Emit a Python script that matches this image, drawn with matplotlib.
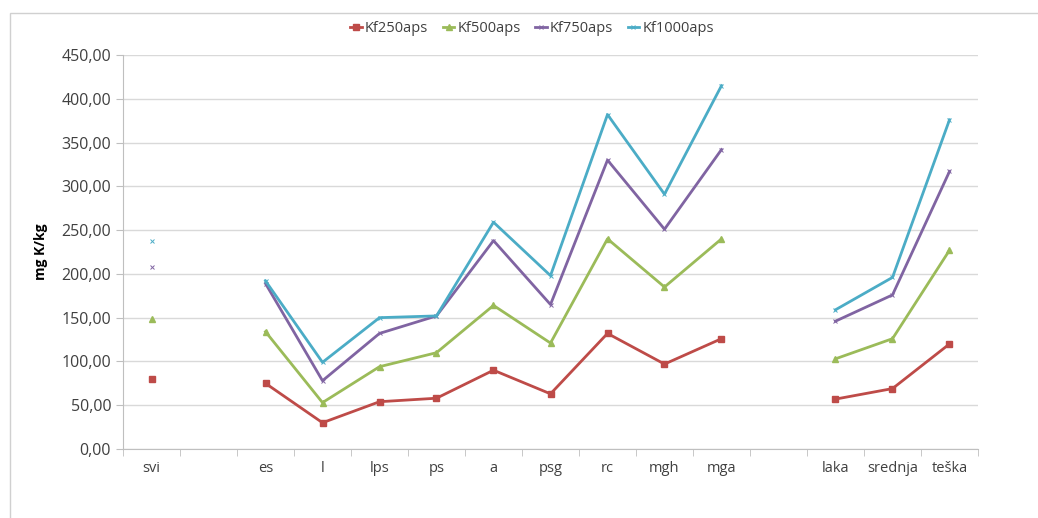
import matplotlib
matplotlib.use("Agg")
from matplotlib import pyplot as plt
from matplotlib.patches import Rectangle
from matplotlib.ticker import FuncFormatter, FixedLocator
import numpy as np

plt.rcParams['font.family'] = ['Open Sans', 'DejaVu Sans']

# categories (blank slots are gaps in the Excel chart)
categories = ['svi', '', 'es', 'l', 'lps', 'ps', 'a', 'psg', 'rc', 'mgh', 'mga', '', 'laka', 'srednja', 'teška']
nan = np.nan
kf250 = [80, nan, 75, 30, 54, 58, 90, 63, 132, 97, 126, nan, 57, 69, 120]
kf500 = [148, nan, 134, 53, 94, 110, 164, 121, 240, 185, 240, nan, 103, 126, 227]
kf750 = [208, nan, 189, 78, 132, 152, 238, 165, 330, 251, 342, nan, 146, 176, 317]
kf1000 = [237, nan, 192, 99, 150, 152, 259, 198, 382, 291, 415, nan, 159, 196, 376]

series = [
    ('Kf250aps', kf250, '#BE4B48', 's', 5, 1),
    ('Kf500aps', kf500, '#9BBB59', '^', 5, 1),
    ('Kf750aps', kf750, '#8064A2', 'x', 3, 0.7),
    ('Kf1000aps', kf1000, '#4BACC6', 'x', 3, 0.7),
]

fig = plt.figure(figsize=(10.38, 5.18), dpi=100)
# outer chart frame
fig.patches.append(Rectangle((10/1038, -0.1), 1.2, 1.1 - 13/518,
                             transform=fig.transFigure, fill=False,
                             edgecolor='#D0D0D0', linewidth=1))
ax = fig.add_axes([123/1038, 1 - 449/518, (978 - 123)/1038, (449 - 55)/518])

x = np.arange(len(categories))
for name, vals, col, mk, ms, mew in series:
    ax.plot(x, vals, color=col, linewidth=2, marker=mk, markersize=ms,
            markeredgewidth=mew, label=name)

ax.set_xlim(-0.5, len(categories) - 0.5)
ax.set_ylim(0, 450)
ax.set_yticks(np.arange(0, 451, 50))
ax.yaxis.set_major_formatter(FuncFormatter(lambda v, p: f'{v:.2f}'.replace('.', ',')))
ax.set_xticks(x)
ax.set_xticklabels(categories)
ax.xaxis.set_minor_locator(FixedLocator(np.arange(-0.5, len(categories), 1)))
ax.tick_params(axis='x', which='major', length=0, pad=9, labelsize=10.5, colors='#404040')
ax.tick_params(axis='x', which='minor', length=5, color='#BFBFBF')
ax.tick_params(axis='y', length=5, color='#BFBFBF', labelsize=11.5, labelcolor='#404040')
ax.grid(axis='y', color='#D9D9D9', linewidth=1)
ax.set_axisbelow(True)
for s in ['top', 'right']:
    ax.spines[s].set_visible(False)
for s in ['left', 'bottom']:
    ax.spines[s].set_color('#BFBFBF')

ax.set_ylabel('mg K/kg', fontweight='bold', fontsize=10, labelpad=10)

fig.legend(loc='center', bbox_to_anchor=(532/1038, 1 - 29/518), ncol=4, frameon=False,
           handlelength=0.8, handletextpad=0.2, columnspacing=1.0, fontsize=10.5,
           labelcolor='#404040')

fig.savefig('out.png', dpi=100)
